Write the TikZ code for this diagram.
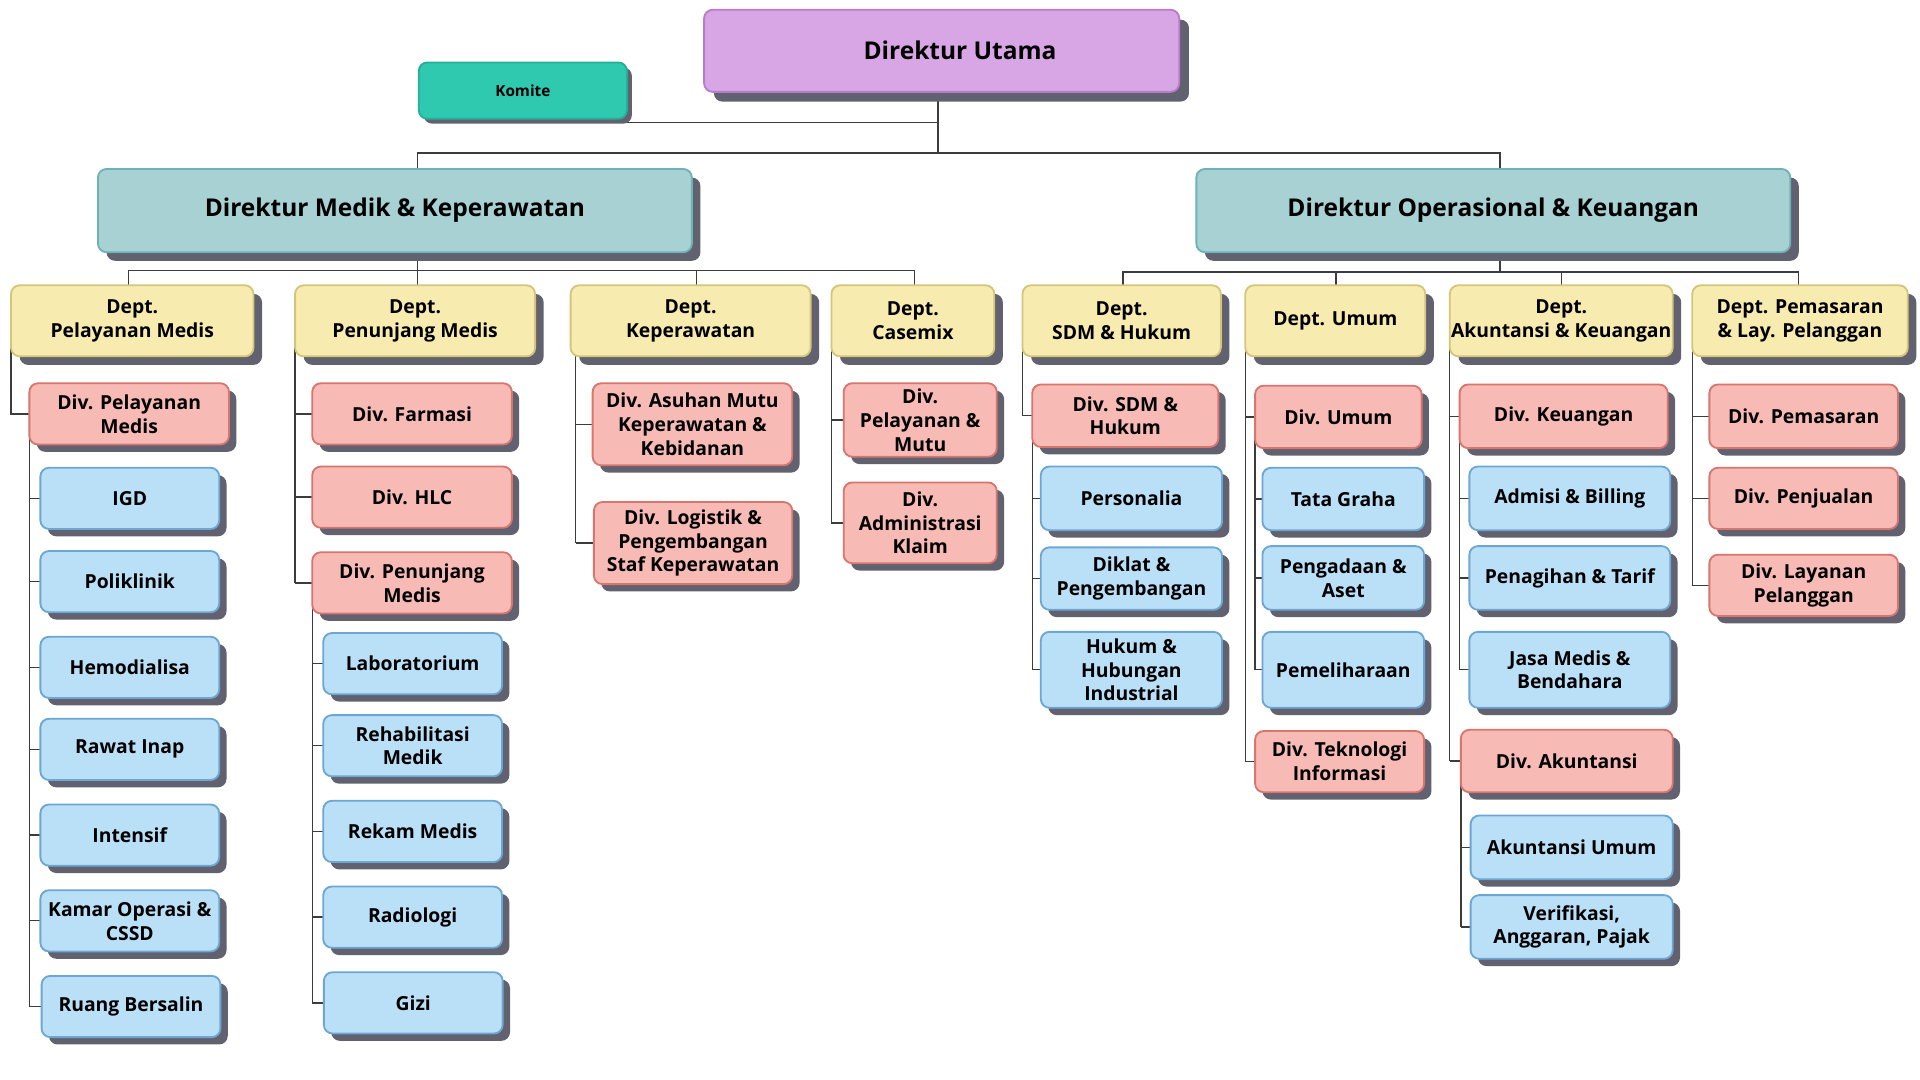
\documentclass[tikz,border=0pt]{standalone}
\usepackage{fontspec}
\setmainfont{Open Sans}
\usetikzlibrary{shadows}
\definecolor{shc}{HTML}{62616F}
\definecolor{duf}{HTML}{D8A6E4}
\definecolor{dud}{HTML}{B87CCB}
\definecolor{komf}{HTML}{2EC9AF}
\definecolor{komd}{HTML}{27AE96}
\definecolor{dirf}{HTML}{A8D1D4}
\definecolor{dird}{HTML}{6DB2B6}
\definecolor{depf}{HTML}{F8EBB0}
\definecolor{depd}{HTML}{D4C57B}
\definecolor{divf}{HTML}{F8BAB5}
\definecolor{divd}{HTML}{D7766F}
\definecolor{unif}{HTML}{BAE0F8}
\definecolor{unid}{HTML}{6CA7D3}
\definecolor{linec}{HTML}{3C3C3C}
\pgfdeclarelayer{bg}
\pgfsetlayers{bg,main}
\newcommand\ob[6]{\node[#1, minimum width=#4pt, minimum height=#5pt] (#2) at (#3) {#6};}
\begin{document}
\begin{tikzpicture}[x=1pt,y=-1pt,
  box/.style={draw, line width=1.5pt, rounded corners=7pt, align=center, inner sep=0pt, text=black},
  shd/.style={drop shadow={shadow xshift=#1, shadow yshift=-#1, fill=shc, opacity=1}},
  tmid/.style={font=\fontsize{15.8}{19.5}\selectfont\bfseries},
  topbox/.style={box, fill=duf, draw=dud, shd=8pt, font=\fontsize{20}{24}\selectfont\bfseries},
  kombox/.style={box, fill=komf, draw=komd, shd=4pt, font=\fontsize{12.5}{15}\selectfont\bfseries},
  dirbox/.style={box, fill=dirf, draw=dird, shd=7pt, font=\fontsize{20}{24}\selectfont\bfseries},
  deptbox/.style={box, fill=depf, draw=depd, shd=7pt, tmid},
  divbox/.style={box, fill=divf, draw=divd, shd=6pt, tmid},
  unitbox/.style={box, fill=unif, draw=unid, shd=6pt, tmid},
  conn/.style={draw=linec, line width=1.1pt}]
\begin{pgfonlayer}{bg}
\fill[white] (0,0) rectangle (1568,882);
\end{pgfonlayer}
\useasboundingbox (0,0) rectangle (1568,882);
% top
\ob{topbox}{du}{769,41.5}{388}{67}{\hspace*{30pt}Direktur Utama}
\ob{kombox}{komite}{427,74}{170}{46}{Komite}
\ob{dirbox}{dm}{322.5,172}{485}{68}{Direktur Medik \& Keperawatan}
\ob{dirbox}{do}{1219.5,172}{485}{68}{Direktur Operasional \& Keuangan}
% departments
\ob{deptbox}{d1}{108,262}{198}{58}{Dept.\\Pelayanan Medis}
\ob{deptbox}{d2}{339,262}{196}{58}{Dept.\\Penunjang Medis}
\ob{deptbox}{d3}{564,262}{196}{58}{Dept.\\Keperawatan}
\ob{deptbox}{d4}{745.5,262}{133}{58}{Dept.\\Casemix}
\ob{deptbox}{d5}{916,262}{162}{58}{Dept.\\SDM \& Hukum}
\ob{deptbox}{d6}{1090.5,262}{147}{58}{Dept. Umum}
\ob{deptbox}{d7}{1275,262}{182}{58}{Dept.\\Akuntansi \& Keuangan}
\ob{deptbox}{d8}{1470,262}{176}{58}{Dept. Pemasaran\\\& Lay. Pelanggan}
% col 1
\ob{divbox}{p1}{105.5,338}{163}{50}{Div. Pelayanan\\Medis}
\ob{unitbox}{igd}{106,407}{146}{50}{IGD}
\ob{unitbox}{poli}{106,475}{146}{50}{Poliklinik}
\ob{unitbox}{hemo}{106,545}{146}{50}{Hemodialisa}
\ob{unitbox}{rawat}{106,612}{146}{50}{Rawat Inap}
\ob{unitbox}{intensif}{106,682}{146}{50}{Intensif}
\ob{unitbox}{kamar}{106,752}{146}{50}{Kamar Operasi \&\\CSSD}
\ob{unitbox}{ruang}{107,822}{146}{50}{Ruang Bersalin}
% col 2
\ob{divbox}{far}{336.5,338}{163}{50}{Div. Farmasi}
\ob{divbox}{hlc}{336.5,406}{163}{50}{Div. HLC}
\ob{divbox}{pm}{336.5,476}{163}{50}{Div. Penunjang\\Medis}
\ob{unitbox}{lab}{337,542}{146}{50}{Laboratorium}
\ob{unitbox}{rehab}{337,609}{146}{50}{Rehabilitasi\\Medik}
\ob{unitbox}{rekam}{337,679}{146}{50}{Rekam Medis}
\ob{unitbox}{radio}{337,749}{146}{50}{Radiologi}
\ob{unitbox}{gizi}{337.5,819}{146}{50}{Gizi}
% col 3
\ob{divbox}{asuhan}{565.5,346.5}{163}{67}{Div. Asuhan Mutu\\Keperawatan \&\\Kebidanan}
\ob{divbox}{logis}{566,443.5}{162}{67}{Div. Logistik \&\\Pengembangan\\Staf Keperawatan}
% col 4
\ob{divbox}{pmutu}{751.5,343}{125}{60}{Div.\\Pelayanan \&\\Mutu}
\ob{divbox}{klaim}{751.5,427}{125}{66}{Div.\\Administrasi\\Klaim}
% col 5
\ob{divbox}{sdm}{919,339.5}{152}{51}{Div. SDM \&\\Hukum}
\ob{unitbox}{pers}{924,407}{148}{52}{Personalia}
\ob{unitbox}{diklat}{924,472.5}{148}{51}{Diklat \&\\Pengembangan}
\ob{unitbox}{hukum}{924,547}{148}{62}{Hukum \&\\Hubungan\\Industrial}
% col 6
\ob{divbox}{umum}{1093,340.5}{136}{51}{Div. Umum}
\ob{unitbox}{tata}{1097,407.5}{132}{51}{Tata Graha}
\ob{unitbox}{adaan}{1097,472}{132}{52}{Pengadaan \&\\Aset}
\ob{unitbox}{pelih}{1097,547}{132}{62}{Pemeliharaan}
\ob{divbox}{ti}{1094,622}{138}{50}{Div. Teknologi\\Informasi}
% col 7
\ob{divbox}{keu}{1277,340}{170}{52}{Div. Keuangan}
\ob{unitbox}{admisi}{1282,407}{164}{52}{Admisi \& Billing}
\ob{unitbox}{tagih}{1282,472}{164}{52}{Penagihan \& Tarif}
\ob{unitbox}{jasa}{1282,547}{164}{62}{Jasa Medis \&\\Bendahara}
\ob{divbox}{akun}{1279.5,621.5}{173}{51}{Div. Akuntansi}
\ob{unitbox}{akunum}{1283.5,692}{165}{52}{Akuntansi Umum}
\ob{unitbox}{verif}{1283.5,757}{165}{52}{Verifikasi,\\Anggaran, Pajak}
% col 8
\ob{divbox}{pemas}{1473,340}{154}{52}{Div. Pemasaran}
\ob{divbox}{jual}{1473,407}{154}{50}{Div. Penjualan}
\ob{divbox}{layan}{1473,478}{154}{50}{Div. Layanan\\Pelanggan}
% connectors
\begin{pgfonlayer}{bg}
\coordinate (j0) at (766,125);
\coordinate (jk) at (766,100);
\coordinate (bL) at (341,125);
\coordinate (bR) at (1225,125);
\draw[conn] (j0 |- du.center) -- (j0);
\draw[conn] (jk) -- (jk -| komite.center);
\draw[conn] (bL |- dm.center) -- (bL) -- (bR) -- (bR |- do.center);
\coordinate (mL) at (341,221);
\coordinate (t1) at (105,221);
\coordinate (t3) at (569,221);
\coordinate (t4) at (747,221);
\draw[conn] (mL |- dm.center) -- (mL) -- (mL |- d2.center);
\draw[conn] (t1 |- d1.center) -- (t1) -- (t4) -- (t4 |- d4.center);
\draw[conn] (t3) -- (t3 |- d3.center);
\coordinate (mR) at (1225,222);
\coordinate (r1) at (917,222);
\coordinate (r2) at (1091,222);
\coordinate (r3) at (1275,222);
\coordinate (r4) at (1469,222);
\draw[conn] (mR |- do.center) -- (mR);
\draw[conn] (r1 |- d5.center) -- (r1) -- (r4) -- (r4 |- d8.center);
\draw[conn] (r2) -- (r2 |- d6.center);
\draw[conn] (r3) -- (r3 |- d7.center);
\coordinate (x1) at (9,0);
\coordinate (x1b) at (24,0);
\coordinate (x2) at (241,0);
\coordinate (x2b) at (255,0);
\coordinate (x3) at (470,0);
\coordinate (x4) at (679,0);
\coordinate (x5) at (835,0);
\coordinate (x5b) at (843,0);
\coordinate (x6) at (1017,0);
\coordinate (x6b) at (1025,0);
\coordinate (x7) at (1184,0);
\coordinate (x7b) at (1192,0);
\coordinate (x7c) at (1193,0);
\coordinate (x8) at (1382,0);
% col 1
\draw[conn] (x1 |- d1.center) -- (x1 |- p1.center) -- (p1.center);
\draw[conn] (x1b |- p1.center) -- (x1b |- ruang.center);
\foreach \n in {igd,poli,hemo,rawat,intensif,kamar,ruang} \draw[conn] (x1b |- \n.center) -- (\n.center);
% col 2
\draw[conn] (x2 |- d2.center) -- (x2 |- pm.center);
\foreach \n in {far,hlc,pm} \draw[conn] (x2 |- \n.center) -- (\n.center);
\draw[conn] (x2b |- pm.center) -- (x2b |- gizi.center);
\foreach \n in {lab,rehab,rekam,radio,gizi} \draw[conn] (x2b |- \n.center) -- (\n.center);
% col 3
\draw[conn] (x3 |- d3.center) -- (x3 |- logis.center);
\foreach \n in {asuhan,logis} \draw[conn] (x3 |- \n.center) -- (\n.center);
% col 4
\draw[conn] (x4 |- d4.center) -- (x4 |- klaim.center);
\foreach \n in {pmutu,klaim} \draw[conn] (x4 |- \n.center) -- (\n.center);
% col 5
\draw[conn] (x5 |- d5.center) -- (x5 |- sdm.center) -- (sdm.center);
\draw[conn] (x5b |- sdm.center) -- (x5b |- hukum.center);
\foreach \n in {pers,diklat,hukum} \draw[conn] (x5b |- \n.center) -- (\n.center);
% col 6
\draw[conn] (x6 |- d6.center) -- (x6 |- ti.center);
\foreach \n in {umum,ti} \draw[conn] (x6 |- \n.center) -- (\n.center);
\draw[conn] (x6b |- umum.center) -- (x6b |- pelih.center);
\foreach \n in {tata,adaan,pelih} \draw[conn] (x6b |- \n.center) -- (\n.center);
% col 7
\draw[conn] (x7 |- d7.center) -- (x7 |- akun.center);
\foreach \n in {keu,akun} \draw[conn] (x7 |- \n.center) -- (\n.center);
\draw[conn] (x7b |- keu.center) -- (x7b |- jasa.center);
\foreach \n in {admisi,tagih,jasa} \draw[conn] (x7b |- \n.center) -- (\n.center);
\draw[conn] (x7c |- akun.center) -- (x7c |- verif.center);
\foreach \n in {akunum,verif} \draw[conn] (x7c |- \n.center) -- (\n.center);
% col 8
\draw[conn] (x8 |- d8.center) -- (x8 |- layan.center);
\foreach \n in {pemas,jual,layan} \draw[conn] (x8 |- \n.center) -- (\n.center);
\end{pgfonlayer}
\end{tikzpicture}
\end{document}
